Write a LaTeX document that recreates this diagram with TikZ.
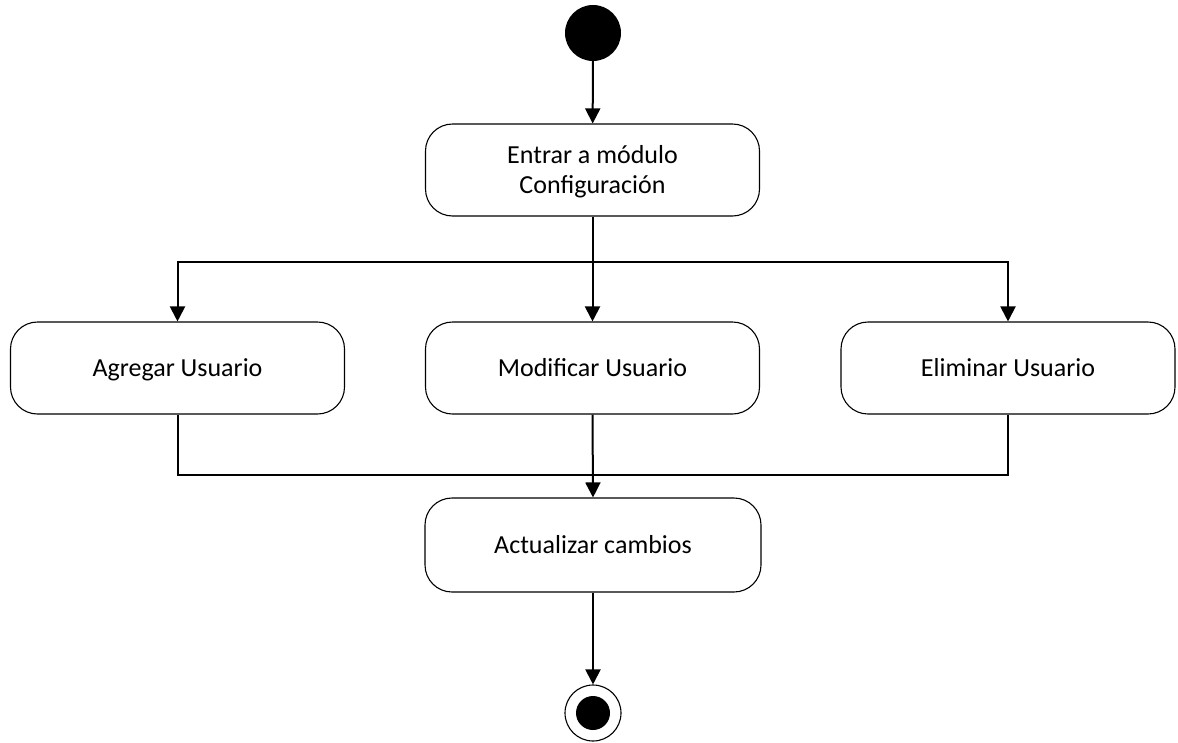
\documentclass[tikz,border=0pt]{standalone}
\usepackage{fontspec}
\setmainfont{Carlito}
\usetikzlibrary{arrows.meta}
\begin{document}
\begin{tikzpicture}[x=1pt,y=-1pt,
  activity/.style={draw, line width=1.1pt, rounded corners=27pt,
    minimum width=334pt, minimum height=92pt, align=center,
    font=\fontsize{26}{30}\selectfont, inner sep=0pt,
    text height=16.5pt, text depth=0pt},
  flow/.style={line width=2pt, -{Triangle[length=15pt,width=15pt]}},
  plainflow/.style={line width=2pt}]
\useasboundingbox (0,0) rectangle (1178,742);

% initial and final states
\node[circle, fill=black, minimum size=56pt, inner sep=0pt] (start) at (593,33) {};
\node[circle, draw, line width=1.1pt, minimum size=56pt, inner sep=0pt] (stop) at (593,713) {};
\node[circle, fill=black, minimum size=34pt, inner sep=0pt] (stopdot) at (593,713) {};

% activities
\node[activity, text height=46.5pt] (conf) at (592.5,170) {Entrar a módulo\\Configuración};
\node[activity] (agregar) at (177.5,368) {Agregar Usuario};
\node[activity] (modificar) at (592.5,368) {Modificar Usuario};
\node[activity] (eliminar) at (1008,368) {Eliminar Usuario};
\node[activity, minimum width=336pt, minimum height=94pt] (actualizar) at (593,545) {Actualizar cambios};

% fork and join points
\coordinate (split) at (593,262);
\coordinate (join) at (593,475);

% transitions
\draw[flow] (start) -- (conf);
\draw[flow] (conf.south) -- (modificar.north);
\draw[flow] (split) -| (agregar.north);
\draw[flow] (split) -| (eliminar.north);
\draw[plainflow] (agregar.south) |- (join);
\draw[plainflow] (eliminar.south) |- (join);
\draw[flow] (modificar.south) -- (actualizar.north);
\draw[flow] (actualizar.south) -- (stop.north);
\end{tikzpicture}
\end{document}
